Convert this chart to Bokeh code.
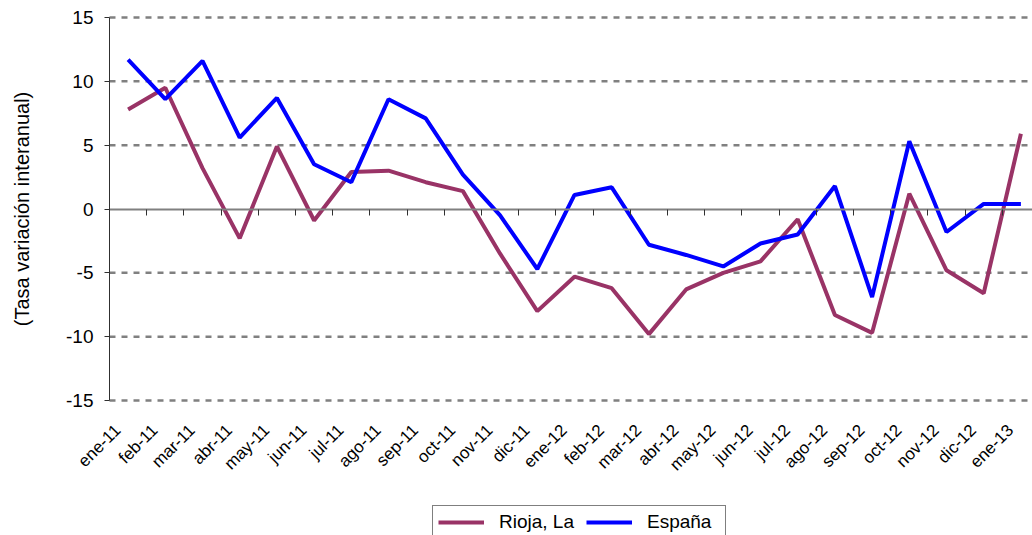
import math
from bokeh.plotting import figure
from bokeh.models import (Range1d, FixedTicker, LinearAxis, Legend, LegendItem,
                          ColumnDataSource, Label)
from bokeh.embed import file_html
from bokeh.resources import INLINE

# ---- data ----
months = ["ene-11", "feb-11", "mar-11", "abr-11", "may-11", "jun-11", "jul-11",
          "ago-11", "sep-11", "oct-11", "nov-11", "dic-11", "ene-12", "feb-12",
          "mar-12", "abr-12", "may-12", "jun-12", "jul-12", "ago-12", "sep-12",
          "oct-12", "nov-12", "dic-12", "ene-13"]
rioja = [7.8, 9.5, 3.2, -2.3, 4.9, -0.9, 2.9, 3.0, 2.1, 1.4, -3.5, -8.0, -5.3,
         -6.2, -9.8, -6.3, -5.0, -4.1, -0.8, -8.3, -9.7, 1.2, -4.8, -6.6, 5.9]
espana = [11.7, 8.6, 11.6, 5.6, 8.7, 3.5, 2.1, 8.6, 7.1, 2.7, -0.5, -4.7, 1.1,
          1.7, -2.8, -3.6, -4.5, -2.7, -2.0, 1.8, -6.9, 5.3, -1.8, 0.4, 0.4]
y_ticks = [-15, -10, -5, 0, 5, 10, 15]
y_title = "(Tasa variación interanual)"
series_names = ["Rioja, La", "España"]
colors = ["#993366", "#0000FF"]

FONT = "Liberation Sans"
n = len(months)
xs = list(range(n))
y_min, y_max = y_ticks[0], y_ticks[-1]

# layout (pixels): value area spans x 109..1032 (clipped), y 17..400
W, H = 1032, 535
left_px, top_px, bottom_px = 109, 17, 400
cat_px = 37.2
ppu = (bottom_px - top_px) / (y_max - y_min)
x_start = -0.5 - left_px / cat_px
x_end = -0.5 + (W - left_px) / cat_px
y_hi = y_max + top_px / ppu
y_lo = y_min - (H - bottom_px) / ppu

src = ColumnDataSource(dict(x=xs, rioja=rioja, espana=espana))

p = figure(width=W, height=H, output_backend="svg", toolbar_location=None,
           x_range=Range1d(x_start, x_end), y_range=Range1d(y_lo, y_hi),
           min_border_left=0, min_border_right=0, min_border_top=0,
           min_border_bottom=0, x_axis_type=None, y_axis_type=None)
p.outline_line_color = None
p.background_fill_color = "white"
p.border_fill_color = "white"
p.grid.visible = False

# dashed horizontal gridlines (value axis major gridlines)
grid_y = [t for t in y_ticks if t != 0]
grid_src = ColumnDataSource(dict(y=grid_y, x0=[-0.5] * len(grid_y),
                                 x1=[x_end] * len(grid_y)))
p.segment(x0="x0", x1="x1", y0="y", y1="y", source=grid_src,
          line_color="#808080", line_width=2.5, line_dash="6 6")

# y axis at the left edge of the category area
yaxis = LinearAxis(ticker=FixedTicker(ticks=y_ticks), fixed_location=-0.5,
                   bounds=(y_min, y_max),
                   major_label_overrides={t: str(t) for t in y_ticks},
                   minor_tick_line_color=None, major_tick_out=5, major_tick_in=0,
                   major_tick_line_color="#303030", axis_line_color="#303030",
                   major_label_text_font=FONT, major_label_text_font_size="19px",
                   major_label_text_color="black", major_label_standoff=11)
p.add_layout(yaxis, "left")

p.add_layout(Label(x=-0.5 - (left_px - 21) / cat_px, y=(y_min + y_max) / 2,
                   text=y_title, angle=math.pi / 2, text_align="center",
                   text_baseline="middle", text_font=FONT,
                   text_font_size="20px", text_color="black"))

# x axis labels, placed at the bottom of the value axis
lab_axis = LinearAxis(ticker=FixedTicker(ticks=[i - 0.28 for i in xs]),
                      major_label_overrides={i - 0.28: m for i, m in zip(xs, months)},
                      fixed_location=y_min,
                      major_tick_in=0, major_tick_out=0, axis_line_color=None,
                      minor_tick_line_color=None,
                      major_label_orientation=math.pi / 4,
                      major_label_standoff=27,
                      major_label_text_font=FONT,
                      major_label_text_font_size="17px",
                      major_label_text_color="black")
p.add_layout(lab_axis, "below")

# x axis line at zero with category boundary ticks
zero_axis = LinearAxis(ticker=FixedTicker(ticks=[i - 0.5 for i in range(n + 1)]),
                       fixed_location=0, bounds=(-0.5, x_end),
                       major_tick_in=0, major_tick_out=6,
                       major_tick_line_color="#303030",
                       axis_line_color="#808080", axis_line_width=2,
                       minor_tick_line_color=None,
                       major_label_text_font_size="0px",
                       major_label_standoff=0)
zero_axis.major_label_text_alpha = 0
p.add_layout(zero_axis, "below")

r1 = p.line("x", "rioja", source=src, line_color=colors[0], line_width=4)
r2 = p.line("x", "espana", source=src, line_color=colors[1], line_width=4)

legend = Legend(items=[LegendItem(label=series_names[0], renderers=[r1]),
                       LegendItem(label=series_names[1], renderers=[r2])],
                orientation="horizontal", location=(432, -4),
                glyph_width=46, label_standoff=15, spacing=12, padding=5,
                label_width=73,
                margin=0, border_line_color="black", border_line_width=1,
                label_text_font=FONT, label_text_font_size="19px",
                label_text_color="black", background_fill_alpha=1)
p.add_layout(legend, "center")

open("out.html", "w").write(file_html(p, INLINE))
